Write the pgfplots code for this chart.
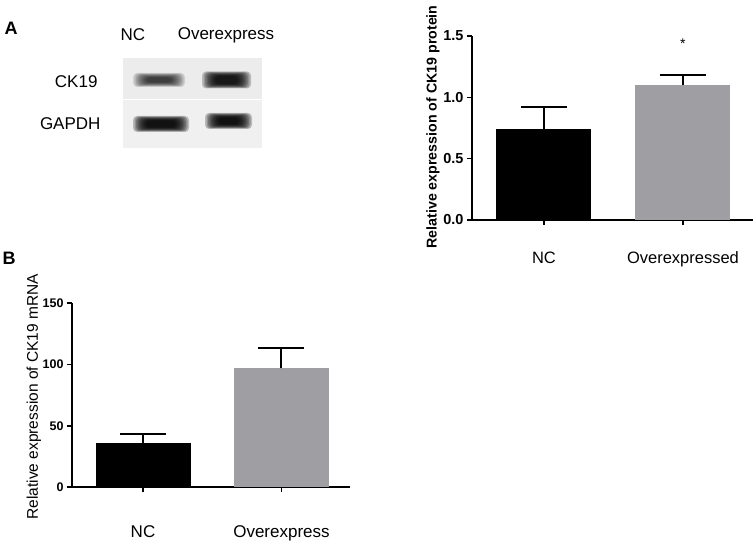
\documentclass[border=0pt]{standalone}
\usepackage{fontspec}
\setmainfont{Liberation Sans}
\usepackage{pgfplots}
\pgfplotsset{compat=1.18}
\definecolor{BarGray}{HTML}{9F9FA3}

\newcommand{\band}[5]{% x1 x2 yc h opacity
  \foreach \k in {0,...,9}{
    \fill[black,opacity=#5,rounded corners=4pt]
      ({#1+\k*1.5},{#3-#4/2+\k*0.5}) rectangle ({#2-\k*1.5},{#3+#4/2-\k*0.5});
  }}

\pgfplotsset{
  gpstyle/.style={
    scale only axis,
    axis x line*=bottom, axis y line*=left,
    axis line style={line width=1.6pt},
    every tick/.style={black,line width=1.6pt},
    tick align=outside, major tick length=5pt,
    xtick={0,1}, ymin=0,
    /pgf/number format/assume math mode=true,
    ybar, bar shift=0pt, bar width=95pt,
    error bars/y dir=plus, error bars/y explicit,
    error bars/error bar style={line width=2pt,black},
    error bars/error mark options={rotate=90,mark size=23pt,line width=2pt,black},
  }
}

\begin{document}
\begin{tikzpicture}[x=1pt,y=1pt]
\path[use as bounding box] (0,0) rectangle (753,543);

% panel letters
\node[font=\bfseries\fontsize{18}{21}\selectfont] at (11,515) {A};
\node[font=\bfseries\fontsize{18}{21}\selectfont] at (9,285) {B};

% blot
\fill[gray!15] (123,485) rectangle (262,444);
\fill[gray!12] (123,443) rectangle (262,395);
\band{133}{185}{463}{14}{0.12}
\band{202}{251}{463}{17}{0.2}
\band{133}{189}{419}{16}{0.22}
\band{205}{252}{422}{16}{0.22}
\begin{scope}[font=\fontsize{17}{20}\selectfont]
\node at (133,508) {NC};
\node at (226,508) {Overexpress};
\node[anchor=east] at (101,461) {CK19};
\node[anchor=east] at (104,419) {GAPDH};
\end{scope}

% panel A chart
\begin{axis}[gpstyle,
  at={(472pt,323pt)}, anchor=south west,
  width=281pt, height=184pt,
  xmin=-0.518, xmax=1.504, ymax=1.5,
  ytick={0,0.5,1,1.5},
  yticklabel style={font=\bfseries\fontsize{14.5}{17}\selectfont,
    /pgf/number format/.cd,fixed,fixed zerofill,precision=1},
  xticklabels={NC,Overexpressed},
  xticklabel style={font=\fontsize{16.5}{19}\selectfont,yshift=-23pt},
  ylabel={Relative expression of CK19 protein},
  ylabel style={font=\bfseries\fontsize{14.2}{17}\selectfont,
    at={(axis description cs:-0.139,-0.174)},anchor=west},
  clip=false]
\addplot[fill=black,draw=none] coordinates {(0,0.739) +- (0,0.185)};
\addplot[fill=BarGray,draw=none] coordinates {(1,1.100) +- (0,0.080)};
\node[font=\fontsize{14}{16}\selectfont] at (axis cs:1,1.44) {*};
\end{axis}

% panel B chart
\begin{axis}[gpstyle,
  at={(72pt,55.7pt)}, anchor=south west,
  width=278pt, height=184pt,
  xmin=-0.513, xmax=1.495, ymax=150,
  ytick={0,50,100,150},
  yticklabel style={font=\bfseries\fontsize{12.5}{14}\selectfont},
  xticklabels={NC,Overexpress},
  xticklabel style={font=\fontsize{17}{20}\selectfont,yshift=-30pt},
  ylabel={Relative expression of CK19 mRNA},
  ylabel style={font=\fontsize{15.5}{18}\selectfont,
    at={(axis description cs:-0.137,-0.194)},anchor=west},
  clip=false]
\addplot[fill=black,draw=none] coordinates {(0,36.4) +- (0,6.8)};
\addplot[fill=BarGray,draw=none] coordinates {(1,97.0) +- (0,16.8)};
\end{axis}
\end{tikzpicture}
\end{document}
